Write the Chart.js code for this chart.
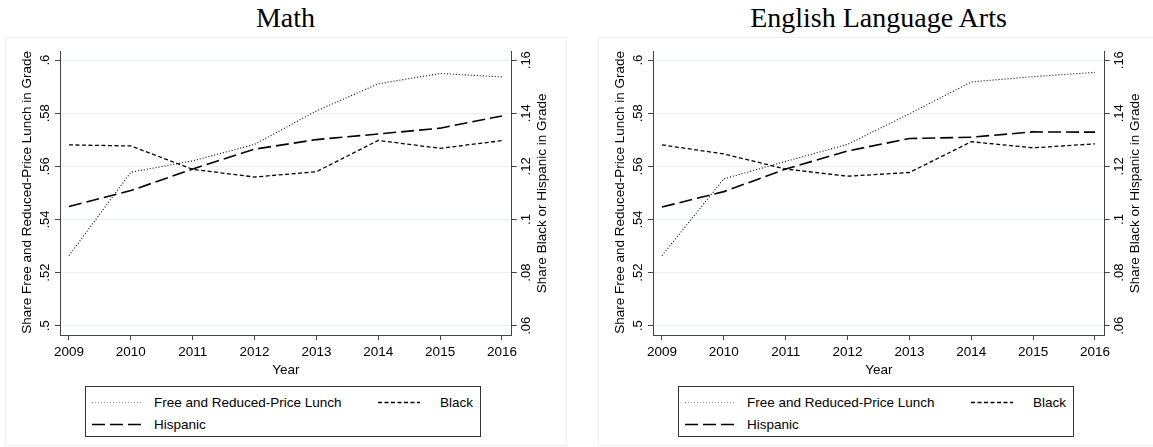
<!DOCTYPE html>
<html>
<head>
<meta charset="utf-8">
<script src="https://cdn.jsdelivr.net/npm/chart.js@4.4.1/dist/chart.umd.min.js"></script>
<style>
  html, body { margin: 0; padding: 0; background: #fff; overflow: hidden; width: 1153px; height: 447px; }
  .panel { position: absolute; top: 0; width: 593px; height: 447px; }
  .frame { position: absolute; left: 5px; top: 37px; width: 560px; height: 407px; border: 1px solid #edf1f2; box-sizing: content-box; }
  .title { position: absolute; left: 0; top: 0.5px; width: 571px; text-align: center; color: #000;
           font: 28px "Liberation Serif", "Times New Roman", serif; line-height: 34px; white-space: nowrap; }
  canvas { position: absolute; left: 0; top: 40px; }
  .legend { position: absolute; left: 85px; top: 386px; width: 394px; height: 49px; border: 1px solid #333;
            font: 13.5px "Liberation Sans", Arial, sans-serif; color: #000; }
  .legend svg { position: absolute; overflow: visible; }
  .legend span { position: absolute; line-height: 16px; white-space: nowrap; }
</style>
</head>
<body>
<div class="panel" id="panelMath" style="left:0px">
  <div class="frame"></div>
  <div class="title">Math</div>
  <canvas id="chartMath" width="580" height="340"></canvas>
  <div class="legend"></div>
</div>
<div class="panel" id="panelEla" style="left:593px">
  <div class="frame"></div>
  <div class="title">English Language Arts</div>
  <canvas id="chartEla" width="580" height="340"></canvas>
  <div class="legend"></div>
</div>
<script>
// School years on the horizontal axis
const years = [2009, 2010, 2011, 2012, 2013, 2014, 2015, 2016];

// Math: share free/reduced-price lunch (left axis), share Black / Hispanic (right axis)
const mathLunch    = [0.5264, 0.5578, 0.5621, 0.5683, 0.5809, 0.5911, 0.5950, 0.5937];
const mathBlack    = [0.1281, 0.1277, 0.1189, 0.1160, 0.1180, 0.1298, 0.1268, 0.1297];
const mathHispanic = [0.1049, 0.1109, 0.1190, 0.1265, 0.1301, 0.1322, 0.1344, 0.1390];

// English Language Arts
const elaLunch    = [0.5264, 0.5553, 0.5619, 0.5683, 0.5798, 0.5918, 0.5938, 0.5954];
const elaBlack    = [0.1281, 0.1247, 0.1190, 0.1163, 0.1177, 0.1293, 0.1270, 0.1285];
const elaHispanic = [0.1047, 0.1105, 0.1190, 0.1258, 0.1305, 0.1310, 0.1330, 0.1329];

// Axis ticks and their labels
const leftTicks       = [0.5, 0.52, 0.54, 0.56, 0.58, 0.6];
const leftTickLabels  = ['.5', '.52', '.54', '.56', '.58', '.6'];
const rightTicks      = [0.06, 0.08, 0.1, 0.12, 0.14, 0.16];
const rightTickLabels = ['.06', '.08', '.1', '.12', '.14', '.16'];

const seriesNames = ['Free and Reduced-Price Lunch', 'Black', 'Hispanic'];
const leftTitle  = 'Share Free and Reduced-Price Lunch in Grade';
const rightTitle = 'Share Black or Hispanic in Grade';
const xTitle = 'Year';

const SANS = '"Liberation Sans", Arial, Helvetica, sans-serif';
const AXIS = '#444';
const GRID = '#e9eff2';

// Line styles: dotted, short dash, long dash
const styles = [
  { dash: [1, 2],   width: 1.1 },
  { dash: [4, 2.5], width: 1.3 },
  { dash: [13, 5],  width: 1.6 }
];

// Rotated y tick labels and y titles, read bottom-to-top on both sides
const rotatedYText = {
  id: 'rotatedYText',
  afterDraw(chart) {
    const ctx = chart.ctx;
    const yL = chart.scales.yL, yR = chart.scales.yR;
    const midY = (chart.chartArea.top + chart.chartArea.bottom) / 2;
    const put = (text, x, y, size) => {
      ctx.save();
      ctx.translate(x, y);
      ctx.rotate(-Math.PI / 2);
      ctx.font = size + 'px ' + SANS;
      ctx.fillStyle = '#000';
      ctx.textAlign = 'center';
      ctx.textBaseline = 'middle';
      ctx.fillText(text, 0, 0);
      ctx.restore();
    };
    leftTicks.forEach((v, i) => put(leftTickLabels[i], yL.right - 15, yL.getPixelForValue(v), 13));
    rightTicks.forEach((v, i) => put(rightTickLabels[i], yR.left + 14.5, yR.getPixelForValue(v), 13));
    put(leftTitle, yL.right - 32.5, midY - 1, 13.5);
    put(rightTitle, yR.left + 30.5, midY, 13.5);
  }
};

function makeChart(id, lunch, black, hispanic) {
  const pts = vals => years.map((yr, i) => ({ x: yr, y: vals[i] }));
  const ds = (label, vals, axis, st) => ({
    label, data: pts(vals), yAxisID: axis,
    borderColor: '#000', borderWidth: st.width, borderDash: st.dash,
    pointRadius: 0, tension: 0, fill: false
  });
  return new Chart(document.getElementById(id), {
    type: 'line',
    data: {
      datasets: [
        ds(seriesNames[0], lunch, 'yL', styles[0]),
        ds(seriesNames[1], black, 'yR', styles[1]),
        ds(seriesNames[2], hispanic, 'yR', styles[2])
      ]
    },
    options: {
      responsive: false,
      animation: false,
      devicePixelRatio: 1,
      layout: { padding: { top: 11.7, left: 0, right: 0, bottom: 0 } },
      plugins: { legend: { display: false }, tooltip: { enabled: false } },
      scales: {
        x: {
          type: 'linear', min: 2008.855, max: 2016.157,
          afterBuildTicks: s => { s.ticks = years.map(v => ({ value: v })); },
          afterFit: s => { s.height = 45; },
          ticks: { callback: v => String(v), color: '#000', font: { family: SANS, size: 13.5 }, padding: 4.5, maxRotation: 0, autoSkip: false },
          grid: { drawOnChartArea: false, tickLength: 5, tickColor: AXIS },
          border: { display: true, color: AXIS, width: 1 },
          title: { display: true, text: xTitle, color: '#000', font: { family: SANS, size: 13.5 }, padding: { top: 0, bottom: 1.6 } }
        },
        yL: {
          type: 'linear', position: 'left', min: 0.4965, max: 0.6032,
          afterBuildTicks: s => { s.ticks = leftTicks.map(v => ({ value: v })); },
          afterFit: s => { s.width = 60; },
          ticks: { display: false },
          grid: { color: GRID, lineWidth: 1, tickLength: 5, tickColor: AXIS },
          border: { display: true, color: AXIS, width: 1 }
        },
        yR: {
          type: 'linear', position: 'right', min: 0.0565, max: 0.1632,
          afterBuildTicks: s => { s.ticks = rightTicks.map(v => ({ value: v })); },
          afterFit: s => { s.width = 68.3; },
          ticks: { display: false },
          grid: { drawOnChartArea: false, tickLength: 5, tickColor: AXIS },
          border: { display: true, color: AXIS, width: 1 }
        }
      }
    },
    plugins: [rotatedYText]
  });
}

function sample(x1, x2, y, st, color) {
  return '<svg style="left:0;top:0" width="1" height="1"><line x1="' + x1 + '" y1="' + y + '" x2="' + x2 + '" y2="' + y +
    '" stroke="' + color + '" stroke-width="' + st.width + '" stroke-dasharray="' + st.dash.join(' ') + '"/></svg>';
}

function makeLegend(panelId) {
  const el = document.querySelector('#' + panelId + ' .legend');
  el.innerHTML =
    sample(6, 57, 15.5, styles[0], '#888') + '<span style="left:68px;top:7.5px">' + seriesNames[0] + '</span>' +
    sample(292, 334, 15.5, styles[1], '#000') + '<span style="left:354px;top:7.5px">' + seriesNames[1] + '</span>' +
    sample(6, 57, 37.5, styles[2], '#000') + '<span style="left:68px;top:29.5px">' + seriesNames[2] + '</span>';
}

makeChart('chartMath', mathLunch, mathBlack, mathHispanic);
makeChart('chartEla', elaLunch, elaBlack, elaHispanic);
makeLegend('panelMath');
makeLegend('panelEla');
</script>
</body>
</html>
